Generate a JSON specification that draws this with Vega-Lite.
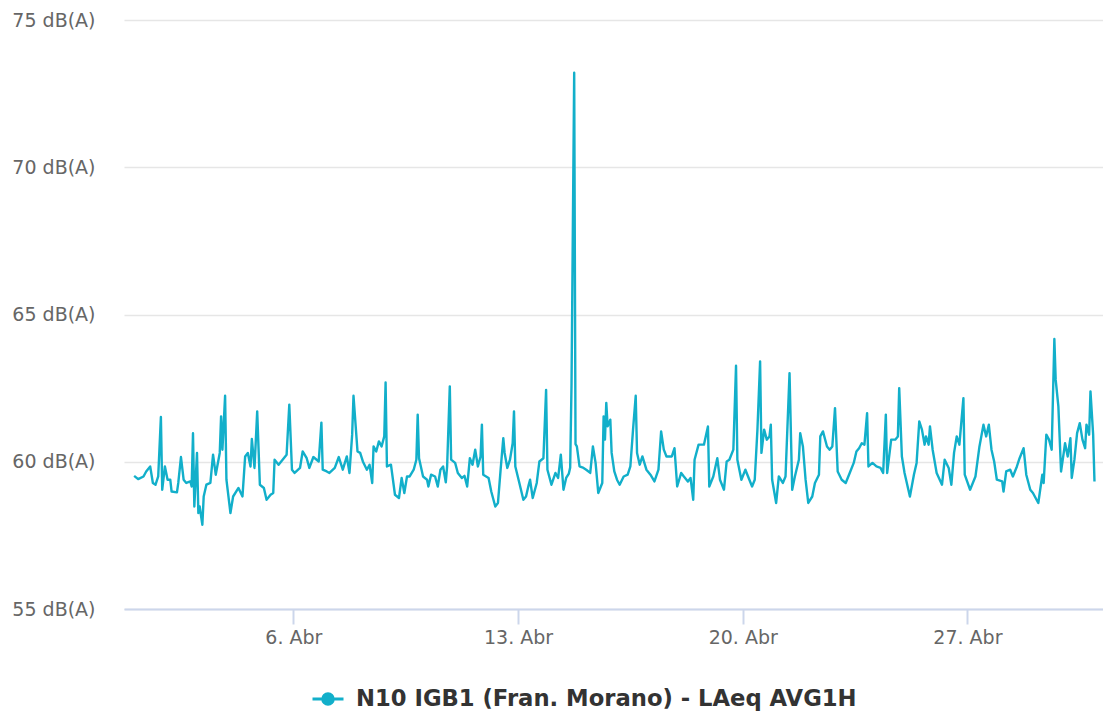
{
"$schema": "https://vega.github.io/schema/vega-lite/v6.json",
"width": 979,
"height": 589,
"autosize": {"type": "none"},
"padding": {"left": 124, "top": 20, "right": 0, "bottom": 104},
"background": "#ffffff",
"config": {"view": {"stroke": null}, "font": "DejaVu Sans"},
"data": {"values": [
{"t":"2023-04-01T01:00","v":59.52},{"t":"2023-04-01T04:00","v":59.41},{"t":"2023-04-01T08:00","v":59.5},{"t":"2023-04-01T10:00","v":59.67},{"t":"2023-04-01T13:00","v":59.84},{"t":"2023-04-01T15:00","v":59.28},{"t":"2023-04-01T17:00","v":59.22},{"t":"2023-04-01T19:00","v":59.5},{"t":"2023-04-01T21:00","v":61.52},{"t":"2023-04-01T22:00","v":59.05},
{"t":"2023-04-02T00:00","v":59.84},{"t":"2023-04-02T02:00","v":59.39},{"t":"2023-04-02T04:00","v":59.39},{"t":"2023-04-02T05:00","v":58.99},{"t":"2023-04-02T09:00","v":58.96},{"t":"2023-04-02T10:00","v":59.28},{"t":"2023-04-02T12:00","v":60.16},{"t":"2023-04-02T14:00","v":59.39},{"t":"2023-04-02T16:00","v":59.28},{"t":"2023-04-02T19:00","v":59.33},{"t":"2023-04-02T20:00","v":59.16},{"t":"2023-04-02T21:00","v":60.97},{"t":"2023-04-02T22:00","v":58.48},
{"t":"2023-04-03T00:00","v":60.3},{"t":"2023-04-03T01:00","v":58.26},{"t":"2023-04-03T02:00","v":58.48},{"t":"2023-04-03T04:00","v":57.86},{"t":"2023-04-03T05:00","v":58.82},{"t":"2023-04-03T07:00","v":59.22},{"t":"2023-04-03T10:00","v":59.28},{"t":"2023-04-03T12:00","v":60.24},{"t":"2023-04-03T14:00","v":59.56},{"t":"2023-04-03T17:00","v":60.3},{"t":"2023-04-03T18:00","v":61.54},{"t":"2023-04-03T19:00","v":60.41},{"t":"2023-04-03T21:00","v":62.24},{"t":"2023-04-03T22:00","v":59.39},
{"t":"2023-04-04T01:00","v":58.26},{"t":"2023-04-04T03:00","v":58.82},{"t":"2023-04-04T07:00","v":59.11},{"t":"2023-04-04T10:00","v":58.82},{"t":"2023-04-04T12:00","v":60.18},{"t":"2023-04-04T14:00","v":60.3},{"t":"2023-04-04T16:00","v":59.84},{"t":"2023-04-04T17:00","v":60.77},{"t":"2023-04-04T19:00","v":59.79},{"t":"2023-04-04T21:00","v":61.71},{"t":"2023-04-04T23:00","v":59.22},
{"t":"2023-04-05T02:00","v":59.11},{"t":"2023-04-05T04:00","v":58.71},{"t":"2023-04-05T07:00","v":58.88},{"t":"2023-04-05T09:00","v":58.94},{"t":"2023-04-05T10:00","v":60.07},{"t":"2023-04-05T13:00","v":59.9},{"t":"2023-04-05T16:00","v":60.07},{"t":"2023-04-05T19:00","v":60.24},{"t":"2023-04-05T21:00","v":61.94},{"t":"2023-04-05T23:00","v":59.73},
{"t":"2023-04-06T01:00","v":59.62},{"t":"2023-04-06T05:00","v":59.79},{"t":"2023-04-06T07:00","v":60.35},{"t":"2023-04-06T10:00","v":60.12},{"t":"2023-04-06T12:00","v":59.79},{"t":"2023-04-06T15:00","v":60.16},{"t":"2023-04-06T19:00","v":60.01},{"t":"2023-04-06T21:00","v":61.33},{"t":"2023-04-06T22:00","v":59.73},
{"t":"2023-04-07T01:00","v":59.67},{"t":"2023-04-07T03:00","v":59.62},{"t":"2023-04-07T07:00","v":59.79},{"t":"2023-04-07T10:00","v":60.16},{"t":"2023-04-07T13:00","v":59.73},{"t":"2023-04-07T16:00","v":60.18},{"t":"2023-04-07T18:00","v":59.62},{"t":"2023-04-07T20:00","v":60.92},{"t":"2023-04-07T21:00","v":62.24},
{"t":"2023-04-08T00:00","v":60.35},{"t":"2023-04-08T02:00","v":60.3},{"t":"2023-04-08T04:00","v":60.01},{"t":"2023-04-08T07:00","v":59.73},{"t":"2023-04-08T09:00","v":59.9},{"t":"2023-04-08T11:00","v":59.28},{"t":"2023-04-08T12:00","v":60.52},{"t":"2023-04-08T14:00","v":60.35},{"t":"2023-04-08T16:00","v":60.69},{"t":"2023-04-08T18:00","v":60.52},{"t":"2023-04-08T20:00","v":60.86},{"t":"2023-04-08T21:00","v":62.69},{"t":"2023-04-08T22:00","v":59.84},
{"t":"2023-04-09T01:00","v":59.9},{"t":"2023-04-09T04:00","v":58.88},{"t":"2023-04-09T07:00","v":58.77},{"t":"2023-04-09T09:00","v":59.45},{"t":"2023-04-09T11:00","v":58.94},{"t":"2023-04-09T13:00","v":59.5},{"t":"2023-04-09T15:00","v":59.5},{"t":"2023-04-09T18:00","v":59.73},{"t":"2023-04-09T20:00","v":60.07},{"t":"2023-04-09T21:00","v":61.6},{"t":"2023-04-09T22:00","v":60.12},
{"t":"2023-04-10T01:00","v":59.5},{"t":"2023-04-10T04:00","v":59.39},{"t":"2023-04-10T05:00","v":59.16},{"t":"2023-04-10T07:00","v":59.56},{"t":"2023-04-10T10:00","v":59.5},{"t":"2023-04-10T12:00","v":59.16},{"t":"2023-04-10T14:00","v":59.73},{"t":"2023-04-10T16:00","v":59.84},{"t":"2023-04-10T18:00","v":59.3},{"t":"2023-04-10T19:00","v":59.84},{"t":"2023-04-10T21:00","v":62.56},{"t":"2023-04-10T22:00","v":60.07},
{"t":"2023-04-11T01:00","v":59.96},{"t":"2023-04-11T03:00","v":59.62},{"t":"2023-04-11T06:00","v":59.45},{"t":"2023-04-11T08:00","v":59.52},{"t":"2023-04-11T10:00","v":59.16},{"t":"2023-04-11T12:00","v":60.12},{"t":"2023-04-11T14:00","v":59.9},{"t":"2023-04-11T16:00","v":60.41},{"t":"2023-04-11T18:00","v":59.84},{"t":"2023-04-11T20:00","v":60.18},{"t":"2023-04-11T21:00","v":61.26},{"t":"2023-04-11T22:00","v":59.56},
{"t":"2023-04-12T02:00","v":59.45},{"t":"2023-04-12T04:00","v":58.99},{"t":"2023-04-12T07:00","v":58.48},{"t":"2023-04-12T09:00","v":58.6},{"t":"2023-04-12T11:00","v":59.73},{"t":"2023-04-12T13:00","v":60.8},{"t":"2023-04-12T14:00","v":60.3},{"t":"2023-04-12T16:00","v":59.79},{"t":"2023-04-12T18:00","v":60.07},{"t":"2023-04-12T20:00","v":60.63},{"t":"2023-04-12T21:00","v":61.71},{"t":"2023-04-12T22:00","v":59.84},
{"t":"2023-04-13T01:00","v":59.28},{"t":"2023-04-13T04:00","v":58.71},{"t":"2023-04-13T06:00","v":58.82},{"t":"2023-04-13T08:00","v":59.22},{"t":"2023-04-13T09:00","v":59.39},{"t":"2023-04-13T11:00","v":58.77},{"t":"2023-04-13T14:00","v":59.28},{"t":"2023-04-13T16:00","v":60.01},{"t":"2023-04-13T19:00","v":60.12},{"t":"2023-04-13T21:00","v":62.44},{"t":"2023-04-13T22:00","v":59.73},
{"t":"2023-04-14T01:00","v":59.22},{"t":"2023-04-14T04:00","v":59.62},{"t":"2023-04-14T06:00","v":59.45},{"t":"2023-04-14T08:00","v":60.24},{"t":"2023-04-14T10:00","v":59.05},{"t":"2023-04-14T12:00","v":59.45},{"t":"2023-04-14T14:00","v":59.6},{"t":"2023-04-14T15:00","v":59.8},{"t":"2023-04-14T16:00","v":62.6},{"t":"2023-04-14T18:00","v":73.21},{"t":"2023-04-14T19:00","v":60.6},{"t":"2023-04-14T20:00","v":60.52},{"t":"2023-04-14T22:00","v":59.84},
{"t":"2023-04-15T01:00","v":59.79},{"t":"2023-04-15T03:00","v":59.73},{"t":"2023-04-15T06:00","v":59.62},{"t":"2023-04-15T08:00","v":60.52},{"t":"2023-04-15T10:00","v":59.96},{"t":"2023-04-15T12:00","v":58.94},{"t":"2023-04-15T15:00","v":59.28},{"t":"2023-04-15T16:00","v":61.54},{"t":"2023-04-15T17:00","v":60.75},{"t":"2023-04-15T18:00","v":62.0},{"t":"2023-04-15T19:00","v":61.2},{"t":"2023-04-15T21:00","v":61.43},{"t":"2023-04-15T22:00","v":60.3},
{"t":"2023-04-16T00:00","v":59.67},{"t":"2023-04-16T02:00","v":59.39},{"t":"2023-04-16T04:00","v":59.22},{"t":"2023-04-16T07:00","v":59.5},{"t":"2023-04-16T10:00","v":59.56},{"t":"2023-04-16T12:00","v":59.84},{"t":"2023-04-16T14:00","v":61.09},{"t":"2023-04-16T16:00","v":62.24},{"t":"2023-04-16T17:00","v":60.3},{"t":"2023-04-16T19:00","v":59.9},{"t":"2023-04-16T21:00","v":60.18},
{"t":"2023-04-17T00:00","v":59.73},{"t":"2023-04-17T03:00","v":59.56},{"t":"2023-04-17T06:00","v":59.33},{"t":"2023-04-17T09:00","v":59.73},{"t":"2023-04-17T11:00","v":61.03},{"t":"2023-04-17T13:00","v":60.41},{"t":"2023-04-17T15:00","v":60.18},{"t":"2023-04-17T19:00","v":60.18},{"t":"2023-04-17T21:00","v":60.46},{"t":"2023-04-17T23:00","v":59.16},
{"t":"2023-04-18T02:00","v":59.62},{"t":"2023-04-18T04:00","v":59.5},{"t":"2023-04-18T07:00","v":59.33},{"t":"2023-04-18T09:00","v":59.45},{"t":"2023-04-18T11:00","v":58.71},{"t":"2023-04-18T12:00","v":60.07},{"t":"2023-04-18T15:00","v":60.58},{"t":"2023-04-18T19:00","v":60.58},{"t":"2023-04-18T22:00","v":61.2},{"t":"2023-04-18T23:00","v":59.16},
{"t":"2023-04-19T02:00","v":59.5},{"t":"2023-04-19T05:00","v":60.12},{"t":"2023-04-19T07:00","v":59.39},{"t":"2023-04-19T10:00","v":59.05},{"t":"2023-04-19T12:00","v":60.01},{"t":"2023-04-19T14:00","v":60.07},{"t":"2023-04-19T17:00","v":60.41},{"t":"2023-04-19T19:00","v":63.26},{"t":"2023-04-19T20:00","v":60.07},{"t":"2023-04-19T23:00","v":59.39},
{"t":"2023-04-20T02:00","v":59.73},{"t":"2023-04-20T04:00","v":59.5},{"t":"2023-04-20T07:00","v":59.16},{"t":"2023-04-20T09:00","v":59.39},{"t":"2023-04-20T11:00","v":61.09},{"t":"2023-04-20T13:00","v":63.41},{"t":"2023-04-20T14:00","v":60.3},{"t":"2023-04-20T16:00","v":61.09},{"t":"2023-04-20T18:00","v":60.75},{"t":"2023-04-20T20:00","v":60.86},{"t":"2023-04-20T21:00","v":61.26},{"t":"2023-04-20T22:00","v":59.39},
{"t":"2023-04-21T01:00","v":58.6},{"t":"2023-04-21T03:00","v":59.5},{"t":"2023-04-21T06:00","v":59.28},{"t":"2023-04-21T08:00","v":59.5},{"t":"2023-04-21T11:00","v":63.01},{"t":"2023-04-21T13:00","v":59.05},{"t":"2023-04-21T15:00","v":59.5},{"t":"2023-04-21T18:00","v":60.07},{"t":"2023-04-21T19:00","v":60.97},{"t":"2023-04-21T21:00","v":60.52},{"t":"2023-04-21T23:00","v":59.39},
{"t":"2023-04-22T01:00","v":58.6},{"t":"2023-04-22T04:00","v":58.82},{"t":"2023-04-22T06:00","v":59.28},{"t":"2023-04-22T09:00","v":59.56},{"t":"2023-04-22T10:00","v":60.86},{"t":"2023-04-22T12:00","v":61.03},{"t":"2023-04-22T15:00","v":60.52},{"t":"2023-04-22T17:00","v":60.41},{"t":"2023-04-22T19:00","v":60.52},{"t":"2023-04-22T21:00","v":61.82},{"t":"2023-04-22T23:00","v":59.67},
{"t":"2023-04-23T02:00","v":59.39},{"t":"2023-04-23T05:00","v":59.28},{"t":"2023-04-23T08:00","v":59.62},{"t":"2023-04-23T11:00","v":59.96},{"t":"2023-04-23T13:00","v":60.35},{"t":"2023-04-23T15:00","v":60.46},{"t":"2023-04-23T17:00","v":60.63},{"t":"2023-04-23T19:00","v":60.58},{"t":"2023-04-23T21:00","v":61.65},{"t":"2023-04-23T22:00","v":59.84},
{"t":"2023-04-24T01:00","v":59.96},{"t":"2023-04-24T04:00","v":59.84},{"t":"2023-04-24T07:00","v":59.79},{"t":"2023-04-24T09:00","v":59.62},{"t":"2023-04-24T11:00","v":61.6},{"t":"2023-04-24T12:00","v":59.62},{"t":"2023-04-24T15:00","v":60.75},{"t":"2023-04-24T18:00","v":60.75},{"t":"2023-04-24T20:00","v":60.86},{"t":"2023-04-24T21:00","v":62.5},{"t":"2023-04-24T23:00","v":60.18},
{"t":"2023-04-25T01:00","v":59.62},{"t":"2023-04-25T05:00","v":58.82},{"t":"2023-04-25T08:00","v":59.56},{"t":"2023-04-25T10:00","v":59.96},{"t":"2023-04-25T12:00","v":61.37},{"t":"2023-04-25T14:00","v":61.09},{"t":"2023-04-25T16:00","v":60.58},{"t":"2023-04-25T17:00","v":60.86},{"t":"2023-04-25T19:00","v":60.58},{"t":"2023-04-25T20:00","v":61.2},{"t":"2023-04-25T22:00","v":60.41},
{"t":"2023-04-26T01:00","v":59.62},{"t":"2023-04-26T05:00","v":59.22},{"t":"2023-04-26T07:00","v":60.07},{"t":"2023-04-26T10:00","v":59.79},{"t":"2023-04-26T12:00","v":59.22},{"t":"2023-04-26T14:00","v":60.3},{"t":"2023-04-26T16:00","v":60.86},{"t":"2023-04-26T18:00","v":60.58},{"t":"2023-04-26T21:00","v":62.16},{"t":"2023-04-26T22:00","v":59.56},
{"t":"2023-04-27T02:00","v":59.05},{"t":"2023-04-27T06:00","v":59.5},{"t":"2023-04-27T09:00","v":60.52},{"t":"2023-04-27T12:00","v":61.26},{"t":"2023-04-27T14:00","v":60.86},{"t":"2023-04-27T16:00","v":61.26},{"t":"2023-04-27T18:00","v":60.41},{"t":"2023-04-27T20:00","v":60.01},{"t":"2023-04-27T22:00","v":59.39},
{"t":"2023-04-28T02:00","v":59.33},{"t":"2023-04-28T03:00","v":58.99},{"t":"2023-04-28T05:00","v":59.67},{"t":"2023-04-28T08:00","v":59.73},{"t":"2023-04-28T10:00","v":59.5},{"t":"2023-04-28T13:00","v":59.84},{"t":"2023-04-28T15:00","v":60.12},{"t":"2023-04-28T18:00","v":60.46},{"t":"2023-04-28T20:00","v":59.56},{"t":"2023-04-28T23:00","v":59.05},
{"t":"2023-04-29T01:00","v":58.94},{"t":"2023-04-29T05:00","v":58.6},{"t":"2023-04-29T08:00","v":59.56},{"t":"2023-04-29T09:00","v":59.28},{"t":"2023-04-29T11:00","v":60.92},{"t":"2023-04-29T13:00","v":60.75},{"t":"2023-04-29T15:00","v":60.41},{"t":"2023-04-29T17:00","v":64.17},{"t":"2023-04-29T18:00","v":62.78},{"t":"2023-04-29T20:00","v":61.88},{"t":"2023-04-29T22:00","v":59.67},
{"t":"2023-04-30T00:00","v":60.3},{"t":"2023-04-30T01:00","v":60.63},{"t":"2023-04-30T03:00","v":60.18},{"t":"2023-04-30T05:00","v":60.8},{"t":"2023-04-30T06:00","v":59.45},{"t":"2023-04-30T08:00","v":60.07},{"t":"2023-04-30T10:00","v":60.97},{"t":"2023-04-30T12:00","v":61.31},{"t":"2023-04-30T14:00","v":60.75},{"t":"2023-04-30T16:00","v":60.46},{"t":"2023-04-30T17:00","v":61.26},{"t":"2023-04-30T19:00","v":60.92},{"t":"2023-04-30T20:00","v":62.39},{"t":"2023-04-30T22:00","v":60.92},{"t":"2023-04-30T23:00","v":59.33}
]},
"mark": {"type": "line", "strokeWidth": 2.4, "interpolate": "linear", "strokeJoin": "round"},
"encoding": {
  "x": {"field": "t", "type": "temporal",
    "scale": {"domain": [{"year": 2023, "month": "mar", "date": 31, "hours": 17, "minutes": 25}, {"year": 2023, "month": "may", "date": 1, "hours": 5, "minutes": 22}]},
    "axis": {"title": null, "grid": false,
      "values": [{"year": 2023, "month": "apr", "date": 6}, {"year": 2023, "month": "apr", "date": 13}, {"year": 2023, "month": "apr", "date": 20}, {"year": 2023, "month": "apr", "date": 27}],
      "labelExpr": "timeFormat(datum.value, '%-d') + '. Abr'",
      "domainColor": "#ccd6eb", "domainWidth": 2, "tickColor": "#ccd6eb", "tickWidth": 2, "tickSize": 15,
      "labelFont": "DejaVu Sans", "labelFontSize": 19, "labelColor": "#666666", "labelPadding": 4, "labelFlush": false, "labelOverlap": false}},
  "y": {"field": "v", "type": "quantitative",
    "scale": {"domain": [55, 75], "nice": false, "zero": false},
    "axis": {"title": null, "values": [55, 60, 65, 70, 75], "domain": false, "ticks": false,
      "gridColor": "#e6e6e6", "gridWidth": 1.5,
      "labelExpr": "datum.value + ' dB(A)'",
      "labelFont": "DejaVu Sans", "labelFontSize": 19, "labelColor": "#666666", "labelPadding": 29}},
  "color": {"datum": "N10 IGB1 (Fran. Morano) - LAeq AVG1H", "type": "nominal",
    "scale": {"range": ["#12afca"]},
    "legend": {"title": null, "orient": "none", "legendX": 187, "legendY": 662, "padding": 0,
      "symbolType": "M-1,0L1,0M-0.34,0A0.34,0.34,0,1,0,0.34,0A0.34,0.34,0,1,0,-0.34,0Z",
      "symbolSize": 961, "symbolStrokeWidth": 3, "symbolFillColor": "#12afca", "symbolStrokeColor": "#12afca",
      "labelFont": "DejaVu Sans", "labelFontSize": 22.7, "labelFontWeight": "bold", "labelColor": "#333333", "labelOffset": 11, "labelLimit": 0}}
}
}
